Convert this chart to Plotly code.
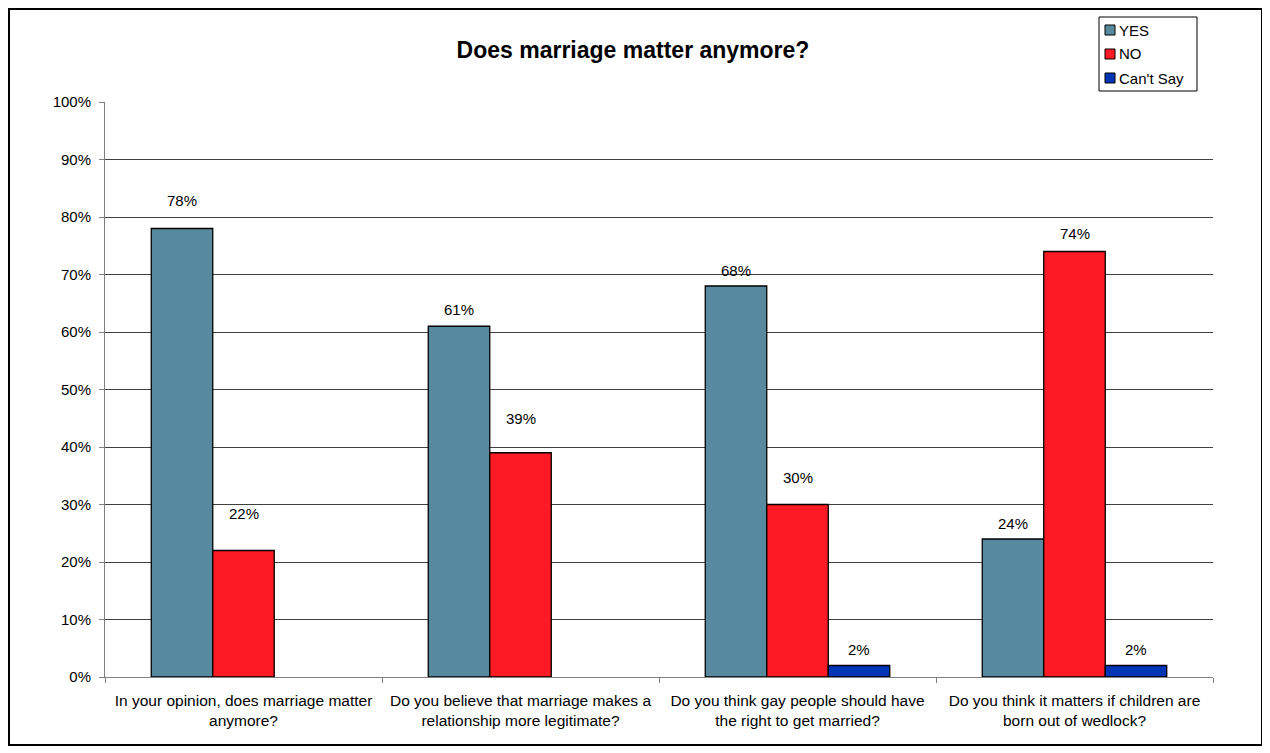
import plotly.graph_objects as go

categories = [
    "In your opinion, does marriage matter<br>anymore?",
    "Do you believe that marriage makes a<br>relationship more legitimate?",
    "Do you think gay people should have<br>the right to get married?",
    "Do you think it matters if children are<br>born out of wedlock?",
]
series_names = ["YES", "NO", "Can't Say"]
yes_vals = [78, 61, 68, 24]
no_vals = [22, 39, 30, 74]
cant_say_vals = [None, None, 2, 2]
series_values = [yes_vals, no_vals, cant_say_vals]
colors = ["#578A9F", "#FC1B24", "#0035B8"]
# vertical pixel shift of each data label above its bar (as placed in the original)
label_shift = [[28, 17, 16, 16], [37, 34, 27, 18], [16, 16, 16, 16]]
y_ticks = list(range(0, 101, 10))
y_ticktext = [f"{t}%" for t in y_ticks]

FONT = "Liberation Sans, Arial"
BODY = 8  # default browser body margin
SW, SH = 1270, 753  # screen size
W, H = SW - BODY, SH - BODY
# plot area in screen pixels
X0, X1, Y0, Y1 = 105, 1213, 102, 677
L, T = X0 - BODY, Y0 - BODY
R, B = W - (X1 - BODY), H - (Y1 - BODY)
bargap = 0.334

fig = go.Figure()
for name, vals, col in zip(series_names, series_values, colors):
    fig.add_trace(go.Bar(
        x=categories, y=vals, name=name, showlegend=False,
        marker=dict(color=col, line=dict(color="#000000", width=1.3)),
    ))

bw = (1 - bargap) / len(series_names)
annotations = []
for si, vals in enumerate(series_values):
    off = (si - (len(series_names) - 1) / 2) * bw
    for ci, v in enumerate(vals):
        if v is None:
            continue
        annotations.append(dict(
            x=ci + off, y=v, xref="x", yref="y", text=f"{v}%",
            showarrow=False, yanchor="middle", yshift=label_shift[si][ci],
            font=dict(family=FONT, size=15, color="#000000"),
        ))

pw, ph = X1 - X0, Y1 - Y0
def px(xs):
    return (xs - X0) / pw
def py(ys):
    return (Y1 - ys) / ph

shapes = [dict(type="rect", xref="paper", yref="paper",
               x0=px(9), x1=px(1262), y0=py(745), y1=py(9),
               line=dict(color="#000000", width=2), layer="below")]

# legend box (custom, to match the Excel legend)
shapes.append(dict(type="rect", xref="paper", yref="paper",
                   x0=px(1099), x1=px(1197), y0=py(91), y1=py(17),
                   line=dict(color="#000000", width=1), fillcolor="#FFFFFF"))
legend_y = [30, 54, 78]
for name, col, ly in zip(series_names, colors, legend_y):
    shapes.append(dict(type="rect", xref="paper", yref="paper",
                       x0=px(1105), x1=px(1115), y0=py(ly + 5), y1=py(ly - 5),
                       line=dict(color="#000000", width=1), fillcolor=col))
    annotations.append(dict(x=px(1117), y=py(ly), xref="paper", yref="paper",
                            text=name, showarrow=False, xanchor="left", yanchor="middle",
                            font=dict(family=FONT, size=15, color="#000000")))

fig.update_layout(
    width=W, height=H,
    margin=dict(l=L, r=R, t=T, b=B, pad=0),
    paper_bgcolor="#FFFFFF", plot_bgcolor="#FFFFFF",
    barmode="group", bargap=bargap, bargroupgap=0,
    font=dict(family=FONT, size=15, color="#000000"),
    title=dict(text="<b>Does marriage matter anymore?</b>", x=px(633), xref="paper",
               xanchor="center", y=1 - (50 - BODY) / H, yanchor="middle",
               font=dict(size=23, family=FONT, color="#000000")),
    showlegend=False,
    annotations=annotations,
    shapes=shapes,
    xaxis=dict(
        type="category", tickson="boundaries",
        range=[-0.5, len(categories) - 0.5],
        showgrid=False, showline=True, linecolor="#808080", linewidth=1,
        ticks="outside", ticklen=5, tickcolor="#808080",
        ticklabelstandoff=9,
        tickfont=dict(size=15.5), zeroline=False,
    ),
    yaxis=dict(
        range=[0, 100], tickmode="array", tickvals=y_ticks, ticktext=y_ticktext,
        showgrid=True, gridcolor="#404040", gridwidth=1,
        showline=True, linecolor="#808080", linewidth=1,
        ticks="outside", ticklen=5, tickcolor="#808080",
        ticklabelstandoff=5,
        tickfont=dict(size=15), zeroline=False,
    ),
)

fig.write_html("out.html")
